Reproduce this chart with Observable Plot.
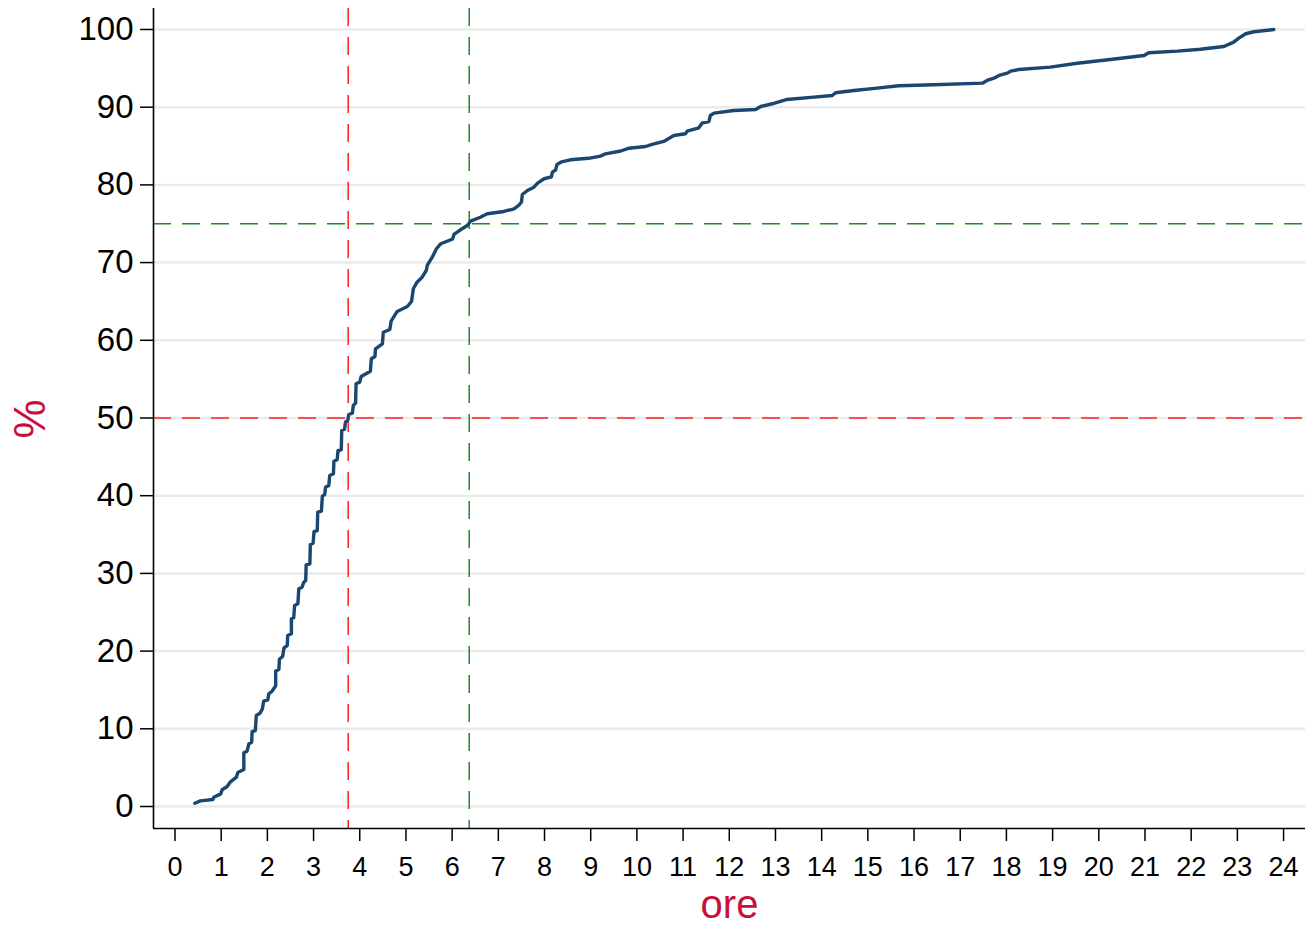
<!DOCTYPE html>
<html>
<head>
<meta charset="utf-8">
<script src="https://cdn.jsdelivr.net/npm/d3@7"></script>
<script src="https://cdn.jsdelivr.net/npm/@observablehq/plot@0.6"></script>
<style>
  html, body { margin: 0; padding: 0; background: #ffffff; }
  #chart svg { display: block; font-family: "Liberation Sans", Arial, Helvetica, sans-serif; }
</style>
</head>
<body>
<div id="chart"></div>
<script>
// Cumulative share (%) of cases by hours ("ore")
const ore = [0.43,0.55,0.82,0.84,0.99,1.02,1.13,1.20,1.33,1.36,
  1.49,1.49,1.56,1.60,1.66,1.67,1.74,1.76,1.84,1.89,
  1.92,2.01,2.03,2.10,2.18,2.18,2.25,2.26,2.33,2.36,
  2.43,2.44,2.52,2.52,2.57,2.59,2.66,2.68,2.75,2.79,
  2.83,2.84,2.92,2.93,2.99,3.01,3.08,3.09,3.17,3.19,
  3.24,3.26,3.33,3.35,3.43,3.44,3.51,3.53,3.60,3.61,
  3.67,3.69,3.74,3.76,3.84,3.86,3.91,3.92,4.00,4.03,
  4.23,4.25,4.33,4.34,4.49,4.51,4.65,4.68,4.81,5.03,
  5.12,5.16,5.24,5.35,5.44,5.46,5.57,5.66,5.75,5.89,
  6.01,6.04,6.18,6.33,6.40,6.61,6.76,7.12,7.34,7.44,
  7.50,7.52,7.63,7.77,7.85,7.99,8.15,8.17,8.24,8.27,
  8.37,8.56,8.95,9.21,9.32,9.65,9.83,10.19,10.33,10.58,
  10.80,11.05,11.09,11.34,11.41,11.56,11.59,11.67,12.10,12.57,
  12.68,12.93,13.25,13.83,14.23,14.30,14.70,15.20,15.67,16.43,
  17.48,17.58,17.73,17.84,18.02,18.09,18.27,18.95,19.53,20.25,
  20.98,21.08,21.70,22.20,22.71,22.92,23.03,23.18,23.36,23.79];

const pct = [0.42,0.73,0.90,1.20,1.63,2.15,2.57,3.18,3.77,4.38,
  4.76,6.91,7.12,8.07,8.28,9.65,9.78,11.71,12.01,12.52,
  13.55,13.73,14.50,14.84,15.53,17.41,17.67,18.96,19.31,20.42,
  20.72,22.01,22.23,24.16,24.29,25.87,26.09,28.02,28.22,28.87,
  29.09,31.11,31.24,33.72,33.89,35.39,35.52,37.88,38.01,39.94,
  40.15,41.09,41.31,42.60,42.82,44.44,44.62,45.82,45.91,48.39,
  48.56,49.46,49.68,50.45,50.62,51.61,51.91,54.40,54.61,55.34,
  56.02,57.62,57.92,58.91,59.55,61.04,61.39,62.46,63.71,64.35,
  64.99,66.63,67.48,68.12,68.98,69.63,70.70,71.78,72.42,72.75,
  73.04,73.62,74.22,74.78,75.33,75.84,76.28,76.58,76.92,77.35,
  77.77,78.76,79.28,79.70,80.22,80.79,81.04,81.64,81.92,82.63,
  82.97,83.23,83.42,83.70,84.00,84.36,84.72,84.94,85.20,85.59,
  86.36,86.58,86.91,87.35,87.94,88.16,88.93,89.23,89.58,89.70,
  90.09,90.44,90.99,91.29,91.51,91.85,92.15,92.45,92.75,92.88,
  93.09,93.44,93.73,94.08,94.38,94.63,94.85,95.15,95.66,96.14,
  96.65,97.00,97.21,97.46,97.81,98.37,98.88,99.45,99.71,100];

// Reference lines: median (50%) and 75th percentile
const medianOre = 3.75;
const p75Ore = 6.37;
const refPct = [50, 75];

// Tick labels
const xTicks = d3.range(0, 25);       // 0 .. 24
const yTicks = d3.range(0, 101, 10);  // 0 .. 100

// Axis titles
const xTitle = ["ore"];
const yTitle = ["%"];

const xDomain = [-0.4655, 24.475];
const yDomain = [-2.83, 102.70];

const data = ore.map((x, i) => ({ x, y: pct[i] }));

const titleColor = "#c8103c";
const redC = "#ff2020";
const greenC = "#228b22";

const chart = Plot.plot({
  width: 1305,
  height: 926,
  marginLeft: 153,
  marginRight: 0,
  marginTop: 8,
  marginBottom: 98,
  style: { background: "#ffffff", color: "#000000", fontFamily: "'Liberation Sans', Arial, sans-serif", overflow: "visible" },
  x: { domain: xDomain },
  y: { domain: yDomain },
  marks: [
    Plot.gridY(yTicks, { stroke: "#ebebeb", strokeOpacity: 1, strokeWidth: 2.5 }),
    Plot.ruleX([medianOre], { stroke: redC, strokeWidth: 1.5, strokeDasharray: "18,11" }),
    Plot.ruleX([p75Ore], { stroke: greenC, strokeWidth: 1.5, strokeDasharray: "18,11" }),
    Plot.ruleY([refPct[0]], { stroke: redC, strokeWidth: 1.5, strokeDasharray: "18,11" }),
    Plot.ruleY([refPct[1]], { stroke: greenC, strokeWidth: 1.5, strokeDasharray: "18,11" }),
    Plot.line(data, { x: "x", y: "y", stroke: "#1a476f", strokeWidth: 3.4, strokeLinejoin: "round", strokeLinecap: "round" }),
    Plot.axisY(yTicks, { tickSize: 13, tickPadding: 7, fontSize: 33, label: null, stroke: "#000", strokeWidth: 1.5, tickFormat: d => String(d) }),
    Plot.axisX(xTicks, { tickSize: 13, tickPadding: 15, fontSize: 27, label: null, stroke: "#000", strokeWidth: 1.5, tickFormat: d => String(d) }),
    Plot.ruleX([xDomain[0]], { stroke: "#000", strokeWidth: 1.6 }),
    Plot.ruleY([yDomain[0]], { stroke: "#000", strokeWidth: 1.6 }),
    Plot.text(xTitle, { text: d => d, frameAnchor: "bottom", dy: 89.3, lineAnchor: "bottom", fontSize: 40, fill: titleColor }),
    Plot.text(yTitle, { text: d => d, frameAnchor: "left", dx: -122.5, dy: 20, rotate: -90, fontSize: 44, fill: titleColor })
  ]
});

document.getElementById("chart").appendChild(chart);
</script>
</body>
</html>
